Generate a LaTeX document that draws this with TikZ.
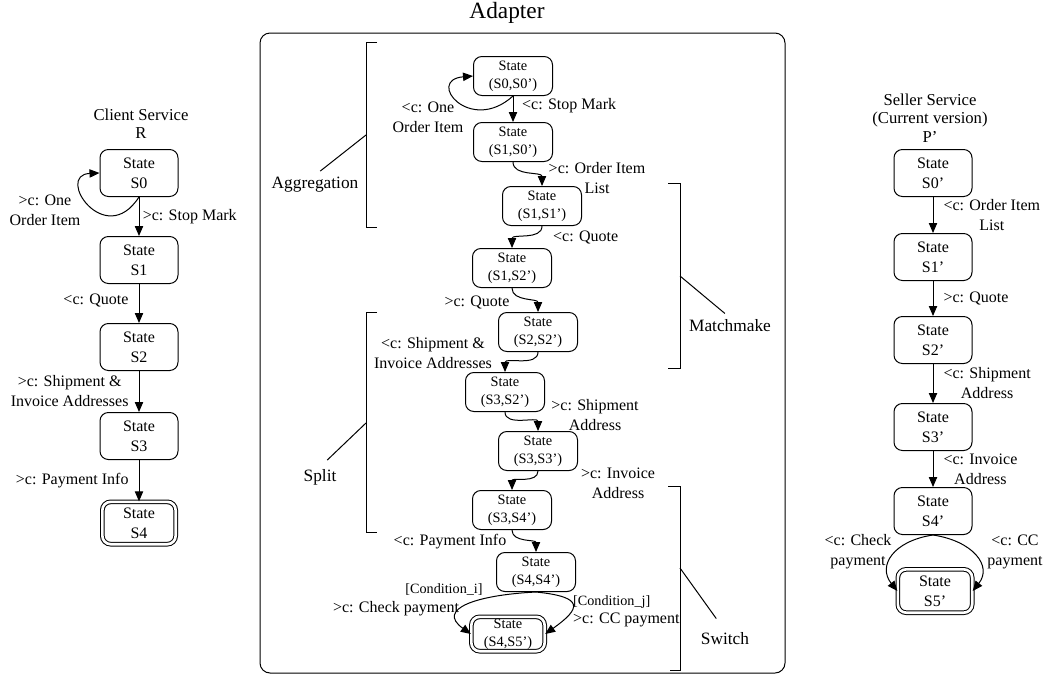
\documentclass[tikz,border=0pt]{standalone}
\usepackage{fontspec}
\setmainfont{Liberation Serif}
\usetikzlibrary{arrows.meta}

\tikzset{
  state/.style={draw, rounded corners=5pt, align=center, inner sep=1pt,
    minimum width=46.8pt, minimum height=28.2pt, font=\fontsize{9.6}{12}\selectfont},
  pair/.style={state, minimum width=47.4pt, minimum height=23.4pt,
    font=\fontsize{8.6}{10.8}\selectfont},
  final/.style={double, double distance=1.6pt},
  trans/.style={-{Triangle[length=6pt,width=5pt]}},
  lbl/.style={align=center, inner sep=1pt, font=\fontsize{9.6}{12}\selectfont},
  cond/.style={align=center, inner sep=1pt, font=\fontsize{8.5}{10}\selectfont},
  title/.style={align=center, inner sep=1pt, font=\fontsize{10}{11}\selectfont},
  grp/.style={inner sep=1pt, font=\fontsize{10.4}{12}\selectfont},
}

\begin{document}
\begin{tikzpicture}[x=0.6pt, y=-0.6pt, line width=0.6pt]
  \useasboundingbox (0,0) rectangle (1045,676);

  % client service R
  \node[title] (rtitle) at (141,124) {Client Service\\R};
  \node[state] (r0) at (139,173) {State\\S0};
  \node[state] (r1) at (139,260) {State\\S1};
  \node[state] (r2) at (139,347) {State\\S2};
  \node[state] (r3) at (139,436) {State\\S3};
  \node[state, final, minimum width=44pt, minimum height=25.4pt] (r4) at (139,523) {State\\S4};

  \draw[trans] (r0) -- node[lbl, right, xshift=1pt] (r01) {>c: Stop Mark} (r1);
  \draw[trans] (r1) -- node[lbl, left, xshift=-5pt, yshift=2pt] (r12) {<c: Quote} (r2);
  \draw[trans] (r2) -- node[lbl, left, xshift=-5pt] (r23) {>c: Shipment \&\\Invoice Addresses} (r3);
  \draw[trans] (r3) -- node[lbl, left, xshift=-5pt] (r34) {>c: Payment Info} (r4);
  \draw[trans] (r0.south) .. controls +(-34,53) and +(-45,2) .. (r0.west);
  \node[lbl] (rloop) at (45,210) {>c: One\\Order Item};

  % adapter
  \node[draw, rounded corners=6pt, minimum width=315pt, minimum height=384pt] (adapter) at (522.5,353) {};
  \node[inner sep=1pt, font=\fontsize{14}{16}\selectfont] (atitle) at (507,13) {Adapter};

  \node[pair] (a00) at (513,76) {State\\(S0,S0')};
  \node[pair] (a10) at (513,142) {State\\(S1,S0')};
  \node[pair] (a11) at (542,206) {State\\(S1,S1')};
  \node[pair] (a12) at (512,268) {State\\(S1,S2')};
  \node[pair] (a22) at (538,332) {State\\(S2,S2')};
  \node[pair] (a32) at (505,392) {State\\(S3,S2')};
  \node[pair] (a33) at (538,451) {State\\(S3,S3')};
  \node[pair] (a34) at (512,510) {State\\(S3,S4')};
  \node[pair] (a44) at (536,572) {State\\(S4,S4')};
  \node[pair, final, minimum width=44pt, minimum height=20.6pt] (a45) at (508,634) {State\\(S4,S5')};

  \draw[trans] (a00.south) .. controls +(-43,39) and +(-48,4) .. (a00.west);
  \node[lbl] (al00) at (428,117) {<c: One\\Order Item};
  \draw[trans] (a00) -- (a10);
  \node[lbl, anchor=west] (al01) at (520,106) {<c: Stop Mark};
  \draw[trans] (a10.south) to[out=-90,in=90] (a11.north);
  \node[lbl] (al02) at (597,178) {>c: Order Item\\List};
  \draw[trans] (a11.south) to[out=-90,in=90] (a12.north);
  \node[lbl, anchor=west] (al03) at (551,237) {<c: Quote};
  \draw[trans] (a12.south) to[out=-90,in=90] (a22.north);
  \node[lbl] (al04) at (477,302) {>c: Quote};
  \draw[trans] (a22.south) to[out=-90,in=90] (a32.north);
  \node[lbl] (al05) at (433,353) {<c: Shipment \&\\Invoice Addresses};
  \draw[trans] (a32.south) to[out=-90,in=90] (a33.north);
  \node[lbl] (al06) at (595,415) {>c: Shipment\\Address};
  \draw[trans] (a33.south) to[out=-90,in=90] (a34.north);
  \node[lbl] (al07) at (618,483) {>c: Invoice\\Address};
  \draw[trans] (a34.south) to[out=-90,in=90] (a44.north);
  \node[lbl] (al08) at (450,542) {<c: Payment Info};
  \draw[trans] (a44.south) .. controls +(-60,3) and +(-35,-25) .. (a45.west);
  \node[cond] (ci) at (444,590) {[Condition\_i]};
  \node[lbl] (al09) at (396,609) {>c: Check payment};
  \draw[trans] (a44.south) .. controls +(50,5) and +(35,-25) .. (a45.east);
  \node[cond, anchor=west] (cj) at (571,602) {[Condition\_j]};
  \node[lbl, anchor=west] (al10) at (571,620) {>c: CC payment};

  % groups
  \draw (377,42) -- (366,42) -- (366,227) -- (377,227);
  \coordinate (aggm) at (366,135);
  \node[grp] (agg) at (315,185) {Aggregation};
  \draw[shorten >=4pt] (aggm) -- (agg.north);

  \draw (377,312) -- (366,312) -- (366,532) -- (377,532);
  \coordinate (splm) at (366,423);
  \node[grp] (spl) at (320,477) {Split};
  \draw[shorten >=6pt] (splm) -- (spl.north);

  \draw (668,183) -- (680,183) -- (680,368) -- (668,368);
  \coordinate (matm) at (680,276);
  \node[grp] (mat) at (730,326) {Matchmake};
  \draw[shorten >=4pt] (matm) -- (mat.north);

  \draw (668,486) -- (680,486) -- (680,670) -- (670,670);
  \coordinate (swim) at (680,568);
  \node[grp] (swi) at (725,639) {Switch};
  \draw[shorten >=9pt] (swim) -- (swi.north);

  % seller service P'
  \node[title] (ptitle) at (930,118) {Seller Service\\(Current version)\\P’};
  \node[state] (p0) at (933,173) {State\\S0'};
  \node[state] (p1) at (933,257) {State\\S1'};
  \node[state] (p2) at (933,340) {State\\S2'};
  \node[state] (p3) at (933,427) {State\\S3'};
  \node[state] (p4) at (933,511) {State\\S4'};
  \node[state, final, minimum width=44.6pt, minimum height=26pt] (p5) at (935,591) {State\\S5'};

  \draw[trans] (p0) -- node[lbl, right, xshift=5pt] (p01) {<c: Order Item\\List} (p1);
  \draw[trans] (p1) -- node[lbl, right, xshift=5pt] (p12) {>c: Quote} (p2);
  \draw[trans] (p2) -- node[lbl, right, xshift=5pt] (p23) {<c: Shipment\\Address} (p3);
  \draw[trans] (p3) -- node[lbl, right, xshift=5pt] (p34) {<c: Invoice\\Address} (p4);
  \draw[trans] (p4.south) .. controls +(-40,6) and +(-20,-25) .. (p5.west);
  \node[lbl] (pl1) at (858,552) {<c: Check\\payment};
  \draw[trans] (p4.south) .. controls +(40,6) and +(20,-25) .. (p5.east);
  \node[lbl] (pl2) at (1015,552) {<c: CC\\payment};
\end{tikzpicture}
\end{document}
